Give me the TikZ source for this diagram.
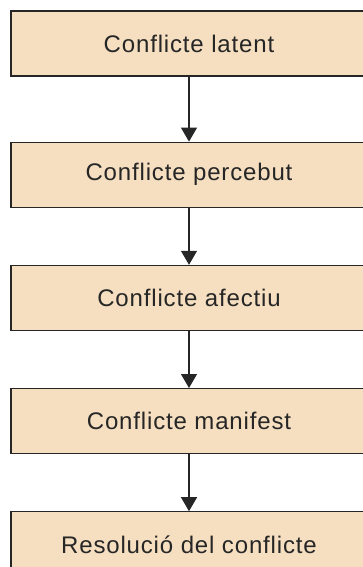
\documentclass[tikz,border=0pt]{standalone}
\usepackage{fontspec}
\setmainfont{Liberation Sans}[LetterSpace=3.5]
\usetikzlibrary{arrows.meta,positioning}
\definecolor{boxfill}{RGB}{245,223,192}

\begin{document}
\begin{tikzpicture}
[x=1pt,y=1pt,
every node/.style={draw=black!85,line width=1.2pt,fill=boxfill,text=black!85,
  minimum width=356pt,minimum height=65pt,inner sep=0pt,
  font=\fontsize{24}{24}\selectfont},
flow/.style={draw=black!85,line width=1.2pt,-{Triangle[width=16pt,length=14pt]}},
node distance=57pt]
\useasboundingbox (0,0) rectangle (362,-567);
\node (latent) at (189,-43.5) {Conflicte latent};
\node (percebut) [below=65pt of latent] {Conflicte percebut};
\node (afectiu) [below=of percebut] {Conflicte afectiu};
\node (manifest) [below=of afectiu] {Conflicte manifest};
\node (resolucio) [below=of manifest] {Resolució del conflicte};
\draw[flow] (latent) -- (percebut);
\draw[flow] (percebut) -- (afectiu);
\draw[flow] (afectiu) -- (manifest);
\draw[flow] (manifest) -- (resolucio);
\end{tikzpicture}
\end{document}
